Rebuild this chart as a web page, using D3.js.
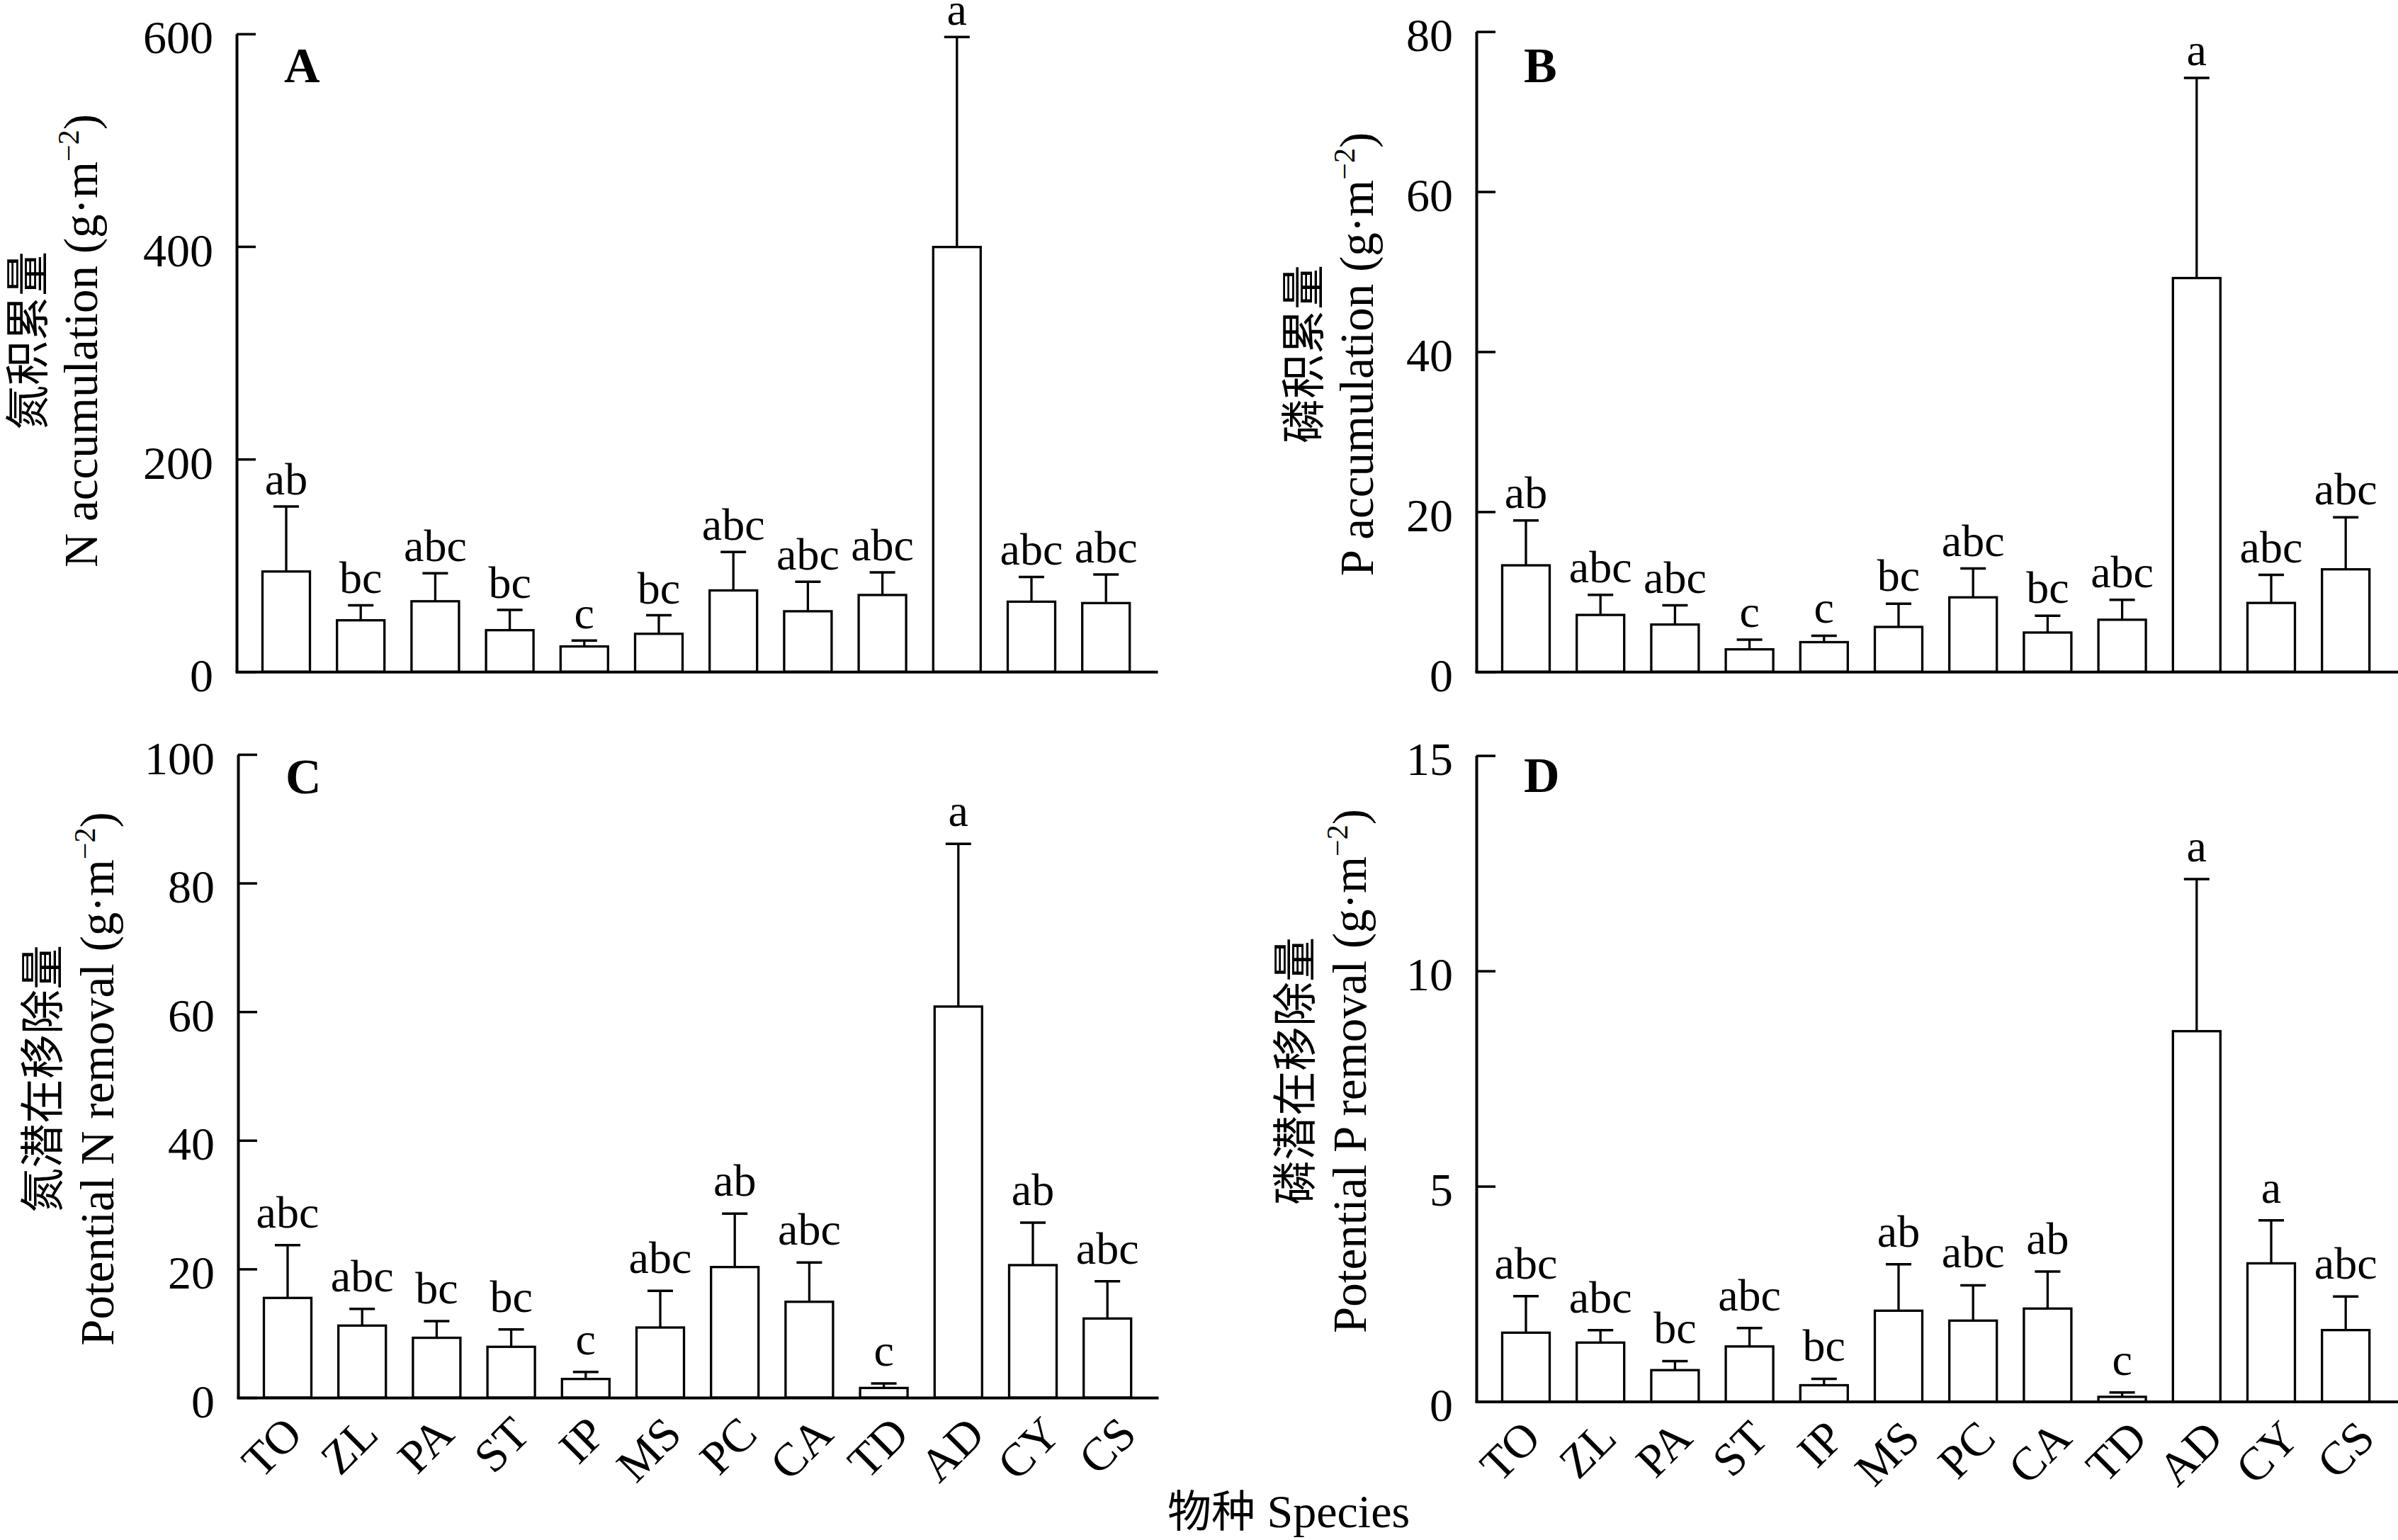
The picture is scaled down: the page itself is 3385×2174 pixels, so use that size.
<!DOCTYPE html>
<html>
<head>
<meta charset="utf-8">
<script src="https://cdn.jsdelivr.net/npm/d3@7"></script>
<style>
  html, body { margin: 0; padding: 0; background: #fff; }
  svg { display: block; }
</style>
</head>
<body>
<svg id="chart" width="3385" height="2174"></svg>
<script>
// ---------------- data ----------------
const species = ["TO","ZL","PA","ST","IP","MS","PC","CA","TD","AD","CY","CS"];

// A: N accumulation (g·m-2)
const nAccMean = [94.3, 48.4, 66.3, 39.1, 23.8, 35.7, 76.5, 56.9, 72.2, 399.5, 65.9, 64.6];
const nAccSE   = [61.2, 14.1, 26.3, 19.1, 5.5, 17.4, 36.1, 27.7, 21.3, 197.5, 23.3, 26.8];
const nAccLetters = ["ab","bc","abc","bc","c","bc","abc","abc","abc","a","abc","abc"];
const nAccTicks = [0, 200, 400, 600];

// B: P accumulation (g·m-2)
const pAccMean = [13.3, 7.1, 5.9, 2.8, 3.7, 5.6, 9.3, 4.9, 6.5, 49.2, 8.6, 12.8];
const pAccSE   = [5.6, 2.5, 2.4, 1.2, 0.8, 2.9, 3.6, 2.1, 2.5, 25.0, 3.5, 6.5];
const pAccLetters = ["ab","abc","abc","c","c","bc","abc","bc","abc","a","abc","abc"];
const pAccTicks = [0, 20, 40, 60, 80];

// C: Potential N removal (g·m-2)
const nRemMean = [15.5, 11.2, 9.3, 7.9, 2.9, 10.9, 20.3, 14.9, 1.5, 60.8, 20.6, 12.3];
const nRemSE   = [8.2, 2.6, 2.6, 2.7, 1.1, 5.7, 8.3, 6.1, 0.7, 25.3, 6.6, 5.8];
const nRemLetters = ["abc","abc","bc","bc","c","abc","ab","abc","c","a","ab","abc"];
const nRemTicks = [0, 20, 40, 60, 80, 100];

// D: Potential P removal (g·m-2)
const pRemMean = [1.60, 1.37, 0.73, 1.28, 0.38, 2.11, 1.88, 2.16, 0.11, 8.60, 3.21, 1.66];
const pRemSE   = [0.85, 0.29, 0.21, 0.43, 0.15, 1.08, 0.82, 0.86, 0.10, 3.53, 1.00, 0.78];
const pRemLetters = ["abc","abc","bc","abc","bc","ab","abc","ab","c","a","a","abc"];
const pRemTicks = [0, 5, 10, 15];

const panelLetters = ["A", "B", "C", "D"];
const yTitlesZh = ["氮积累量", "磷积累量", "氮潜在移除量", "磷潜在移除量"];
const yTitlesEn = ["N accumulation", "P accumulation", "Potential N removal", "Potential P removal"];
const xTitleZh = "物种";
const xTitleEn = "Species";

// ---------------- layout ----------------
const SERIF = "'Liberation Serif', 'Times New Roman', Times, serif";
const CJK = "'Noto Sans CJK SC', 'Noto Sans CJK JP', sans-serif";

const panels = [
  { mean: nAccMean, se: nAccSE, letters: nAccLetters, ticks: nAccTicks,
    ax: 334, yTop: 47.8, y0: 948.3, len: 1298, zhX: 61, enX: 137, labY: 481,
    tag: [401, 116], gap: 17, xLabels: false },
  { mean: pAccMean, se: pAccSE, letters: pAccLetters, ticks: pAccTicks,
    ax: 2084, yTop: 44.6, y0: 948.3, len: 1301, zhX: 1862, enX: 1938, labY: 500,
    tag: [2151, 116], gap: 18, xLabels: false },
  { mean: nRemMean, se: nRemSE, letters: nRemLetters, ticks: nRemTicks,
    ax: 336, yTop: 1065, y0: 1973, len: 1297, zhX: 82, enX: 160, labY: 1523,
    tag: [403, 1120], gap: 25, xLabels: true },
  { mean: pRemMean, se: pRemSE, letters: pRemLetters, ticks: pRemTicks,
    ax: 2084, yTop: 1066.6, y0: 1978.6, len: 1301, zhX: 1850, enX: 1928, labY: 1512,
    tag: [2151, 1118], gap: 25, xLabels: true }
];

const svg = d3.select("#chart");
svg.append("rect").attr("width", 3385).attr("height", 2174).attr("fill", "#fff");

panels.forEach((p, pi) => {
  const g = svg.append("g");
  const ticks = p.ticks;
  const y = d3.scaleLinear().domain([0, ticks[ticks.length - 1]]).range([p.y0, p.yTop]);
  const x = d3.scaleBand().domain(species)
    .range([p.ax + 17.4, p.ax + 1279.8])
    .paddingInner(0.363).paddingOuter(0.1815);
  const bw = x.bandwidth();
  const cx = d => x(d) + bw / 2;
  const labelX = d3.scalePoint().domain(species)
    .range([cx(species[0]) + 24, cx(species[species.length - 1]) + 44]);

  const rows = species.map((s, i) => ({ s, m: p.mean[i], e: p.se[i], l: p.letters[i] }));

  // bars
  g.selectAll("rect.bar").data(rows).join("rect")
    .attr("class", "bar")
    .attr("x", d => x(d.s))
    .attr("y", d => y(d.m))
    .attr("width", bw)
    .attr("height", d => p.y0 - y(d.m))
    .attr("fill", "#fff").attr("stroke", "#000").attr("stroke-width", 3.3);

  // error bars
  g.selectAll("line.err").data(rows).join("line")
    .attr("class", "err")
    .attr("x1", d => cx(d.s)).attr("x2", d => cx(d.s))
    .attr("y1", d => y(d.m)).attr("y2", d => y(d.m + d.e))
    .attr("stroke", "#000").attr("stroke-width", 3.3);
  g.selectAll("line.cap").data(rows).join("line")
    .attr("class", "cap")
    .attr("x1", d => cx(d.s) - 18).attr("x2", d => cx(d.s) + 18)
    .attr("y1", d => y(d.m + d.e)).attr("y2", d => y(d.m + d.e))
    .attr("stroke", "#000").attr("stroke-width", 3.5);

  // significance letters
  g.selectAll("text.sig").data(rows).join("text")
    .attr("class", "sig")
    .attr("x", d => cx(d.s))
    .attr("y", d => y(d.m + d.e) - p.gap)
    .attr("text-anchor", "middle")
    .attr("font-family", SERIF).attr("font-size", 64)
    .text(d => d.l);

  // y axis
  const yAxis = d3.axisLeft(y).tickValues(ticks).tickSizeInner(-27).tickSizeOuter(0)
    .tickPadding(33).tickFormat(d3.format("d"));
  const ga = g.append("g").attr("transform", `translate(${p.ax},0)`).call(yAxis);
  ga.attr("font-family", null).attr("font-size", null);
  ga.select(".domain").attr("stroke", "#000").attr("stroke-width", 4);
  ga.selectAll(".tick line").attr("stroke", "#000").attr("stroke-width", 3.5);
  ga.selectAll(".tick text")
    .attr("font-family", SERIF).attr("font-size", 66).attr("fill", "#000")
    .attr("dy", "0.41em");

  // x axis line
  const xAxis = d3.axisBottom(d3.scaleLinear().domain([0, 1]).range([p.ax, p.ax + p.len]))
    .tickValues([]).tickSizeOuter(0);
  const gx = g.append("g").attr("transform", `translate(0,${p.y0})`).call(xAxis);
  gx.select(".domain").attr("stroke", "#000").attr("stroke-width", 4)
    .attr("stroke-linecap", "square");

  // x tick labels (rotated)
  if (p.xLabels) {
    g.selectAll("text.xl").data(species).join("text")
      .attr("class", "xl")
      .attr("transform", d => `translate(${labelX(d)},${p.y0 + 55}) rotate(-45)`)
      .attr("text-anchor", "end")
      .attr("font-family", SERIF).attr("font-size", 66)
      .text(d => d);
  }

  // panel tag
  g.append("text")
    .attr("x", p.tag[0]).attr("y", p.tag[1])
    .attr("font-family", SERIF).attr("font-size", 70).attr("font-weight", "bold")
    .text(panelLetters[pi]);

  // y titles
  g.append("text")
    .attr("transform", `translate(${p.zhX},${p.labY}) rotate(-90)`)
    .attr("text-anchor", "middle")
    .attr("font-family", CJK).attr("font-size", 63)
    .text(yTitlesZh[pi]);
  const en = g.append("text")
    .attr("transform", `translate(${p.enX},${p.labY}) rotate(-90)`)
    .attr("text-anchor", "middle")
    .attr("font-family", SERIF).attr("font-size", 67);
  en.append("tspan").text(yTitlesEn[pi] + " (g\u00B7m");
  en.append("tspan").attr("font-size", 42).attr("dy", -26).text("\u22122");
  en.append("tspan").attr("dy", 26).text(")");
});

// x title
const xt = svg.append("text")
  .attr("x", 1648).attr("y", 2156)
  .attr("font-size", 66);
xt.append("tspan").attr("font-family", CJK).attr("font-size", 62).text(xTitleZh);
xt.append("tspan").attr("font-family", SERIF).text(" " + xTitleEn);
</script>
</body>
</html>
